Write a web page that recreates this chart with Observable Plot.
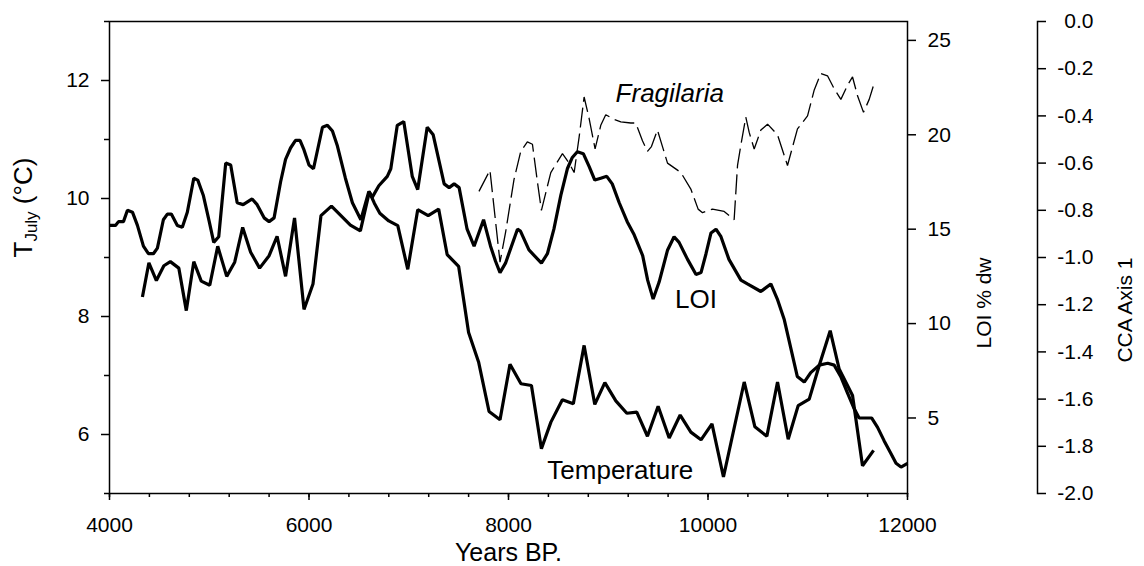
<!DOCTYPE html>
<html>
<head>
<meta charset="utf-8">
<script src="https://cdn.jsdelivr.net/npm/d3@7"></script>
<script src="https://cdn.jsdelivr.net/npm/@observablehq/plot@0.6"></script>
<style>
html, body { margin: 0; padding: 0; background: #fff; }
#chart svg { display: block; }
</style>
</head>
<body>
<div id="chart"></div>
<script>
// ---- Data ----
// July temperature (°C), left axis
const tempYears = [4330,4395,4470,4545,4610,4695,4770,4845,4920,5005,5085,5175,5255,5335,5415,5505,5600,5680,5765,5855,5950,6040,6120,6225,6415,6515,6605,6655,6710,6800,6890,6990,7090,7195,7300,7385,7500,7600,7700,7805,7915,8015,8125,8230,8330,8425,8540,8650,8758,8865,8966,9076,9186,9286,9393,9500,9611,9721,9828,9930,10040,10155,10363,10470,10590,10697,10804,10904,11015,11115,11225,11315,11449,11549,11660];
const tempValues = [8.33,8.91,8.61,8.86,8.93,8.82,8.10,8.93,8.60,8.53,9.19,8.68,8.92,9.51,9.09,8.82,9.03,9.36,8.68,9.67,8.12,8.55,9.71,9.87,9.55,9.45,10.11,9.92,9.75,9.62,9.54,8.80,9.81,9.71,9.82,9.05,8.85,7.73,7.23,6.39,6.25,7.19,6.86,6.83,5.76,6.21,6.59,6.52,7.51,6.51,6.88,6.57,6.36,6.38,5.97,6.48,5.94,6.33,6.04,5.91,6.18,5.28,6.89,6.13,5.97,6.89,5.92,6.49,6.60,7.17,7.76,7.11,6.66,5.47,5.73];

// Loss on ignition (% dry weight), middle right axis
const loiYears = [4000,4060,4090,4140,4180,4230,4280,4340,4390,4440,4480,4540,4580,4620,4680,4730,4780,4845,4885,4940,5000,5045,5095,5165,5215,5280,5340,5430,5480,5550,5600,5650,5715,5765,5815,5865,5910,5950,6000,6045,6135,6185,6235,6285,6365,6435,6520,6600,6635,6700,6785,6820,6885,6950,7035,7090,7185,7245,7355,7405,7455,7505,7585,7655,7750,7820,7870,7915,7970,8090,8120,8205,8330,8390,8455,8525,8590,8640,8690,8750,8810,8865,8925,8985,9040,9110,9190,9260,9345,9395,9450,9510,9595,9660,9710,9795,9880,9930,9980,10030,10080,10130,10210,10330,10395,10530,10630,10695,10765,10830,10895,10965,11030,11115,11200,11265,11330,11400,11465,11515,11585,11640,11700,11765,11835,11885,11935,12000];
const loiValues = [15.2,15.2,15.4,15.4,16.0,15.9,15.2,14.1,13.7,13.7,14.0,15.5,15.8,15.8,15.2,15.1,15.9,17.7,17.6,16.8,15.4,14.3,14.6,18.5,18.4,16.4,16.3,16.6,16.3,15.6,15.4,15.6,17.5,18.7,19.3,19.7,19.7,19.2,18.4,18.2,20.4,20.5,20.2,19.4,17.7,16.4,15.5,17.0,16.7,17.3,17.8,18.2,20.5,20.7,17.8,17.1,20.4,20.0,17.4,17.2,17.4,17.2,15.0,14.1,15.5,14.1,13.3,12.7,13.2,15.0,14.9,13.9,13.2,13.7,15.0,16.8,18.2,18.8,19.1,19.0,18.3,17.6,17.7,17.8,17.4,16.4,15.4,14.7,13.6,12.3,11.3,12.2,13.9,14.6,14.3,13.4,12.6,12.7,13.7,14.8,15.0,14.6,13.4,12.3,12.1,11.7,12.1,11.3,10.2,8.7,7.2,6.9,7.4,7.8,7.9,7.8,7.2,6.3,5.5,5.0,5.0,5.0,4.5,3.8,3.1,2.6,2.4,2.6];

// Fragilaria CCA axis 1 score, far right axis
const fragYears = [7704,7814,7915,7972,8055,8123,8189,8240,8290,8330,8424,8541,8608,8658,8708,8758,8808,8868,8925,8975,9059,9126,9226,9276,9343,9393,9433,9493,9594,9728,9828,9901,9945,10045,10162,10262,10296,10329,10379,10413,10463,10530,10597,10697,10797,10897,10998,11065,11131,11198,11265,11332,11399,11449,11499,11559,11616,11660];
const fragValues = [-0.72,-0.63,-1.02,-0.89,-0.67,-0.55,-0.51,-0.52,-0.68,-0.80,-0.64,-0.56,-0.60,-0.64,-0.49,-0.32,-0.41,-0.54,-0.44,-0.395,-0.415,-0.425,-0.43,-0.43,-0.505,-0.55,-0.53,-0.46,-0.60,-0.64,-0.71,-0.795,-0.81,-0.795,-0.805,-0.84,-0.61,-0.525,-0.405,-0.47,-0.54,-0.46,-0.435,-0.48,-0.61,-0.455,-0.40,-0.29,-0.22,-0.23,-0.285,-0.33,-0.27,-0.235,-0.315,-0.385,-0.33,-0.27];

// Tick values
const xMajorTicks = [4000, 6000, 8000, 10000, 12000];
const xMinorTicks = [4000,4400,4800,5200,5600,6000,6400,6800,7200,7600,8000,8400,8800,9200,9600,10000,10400,10800,11200,11600,12000];
const tMajorTicks = [6, 8, 10, 12];
const tMinorTicks = [5, 7, 9, 11, 13];
const loiTicks = [5, 10, 15, 20, 25];
const ccaTicks = [0.0, -0.2, -0.4, -0.6, -0.8, -1.0, -1.2, -1.4, -1.6, -1.8, -2.0];

// Axis domains
const tDomain = [5, 13];
const loiDomain = [1, 26];
const ccaDomain = [-2, 0];
const xDomain = [4000, 12000];

// In-plot annotations
const noteLabels = ["Temperature", "LOI"];
const noteYears = [9121, 9880];
const noteValues = [5.25, 8.15];
const italicLabels = ["Fragilaria"];
const italicYears = [9617];
const italicValues = [11.63];

// ---- Build tables ----
const loiToT = d3.scaleLinear(loiDomain, tDomain);
const ccaToT = d3.scaleLinear(ccaDomain, tDomain);
const temp = tempYears.map((year, i) => ({year, value: tempValues[i]}));
const loi = loiYears.map((year, i) => ({year, value: loiToT(loiValues[i])}));
const frag = fragYears.map((year, i) => ({year, value: ccaToT(fragValues[i])}));
const notes = noteLabels.map((label, i) => ({label, year: noteYears[i], value: noteValues[i]}));
const italics = italicLabels.map((label, i) => ({label, year: italicYears[i], value: italicValues[i]}));

const fmtCCA = v => { const r = Math.round(v * 10) / 10; return (r < 0 ? "-" : "") + Math.abs(r).toFixed(1); };
const ccaOffset = 130;

const chart = Plot.plot({
  width: 1144,
  height: 566,
  marginLeft: 109,
  marginRight: 237,
  marginTop: 21,
  marginBottom: 73,
  style: {fontFamily: "'Liberation Sans', Arial, Helvetica, sans-serif", fontSize: "21px", color: "#000", background: "#fff", overflow: "visible"},
  x: {domain: xDomain},
  y: {domain: tDomain},
  marks: [
    // x axis
    Plot.axisX(xMinorTicks, {tickSize: 4, strokeWidth: 1.5, fill: "none", label: null}),
    Plot.axisX(xMajorTicks, {tickSize: 7, tickPadding: 17, strokeWidth: 1.5, label: null, fontSize: 21, tickFormat: d => String(d)}),
    Plot.text(["Years BP."], {frameAnchor: "bottom", dy: 67, lineAnchor: "bottom", fontSize: 25}),
    // left axis (°C)
    Plot.axisY(tMinorTicks, {anchor: "left", tickSize: 5, strokeWidth: 1.5, fill: "none", label: null}),
    Plot.axisY(tMajorTicks, {anchor: "left", tickSize: 8, tickPadding: 12, strokeWidth: 1.5, label: null, fontSize: 21, tickFormat: d => String(d)}),
    Plot.text(["TJuly (°C)"], {frameAnchor: "left", dx: -86, rotate: -90, fontSize: 26}),
    // LOI axis
    Plot.axisY(loiTicks.map(loiToT), {anchor: "right", tickSize: 8, tickPadding: 12, strokeWidth: 1.5, label: null, fontSize: 21, tickFormat: d => String(Math.round(loiToT.invert(d)))}),
    Plot.text(["LOI % dw"], {frameAnchor: "right", dx: 77, rotate: -90, fontSize: 21}),
    // CCA axis
    Plot.frame({anchor: "right", dx: ccaOffset, strokeWidth: 1.5}),
    Plot.axisY(ccaTicks.map(ccaToT), {anchor: "right", dx: ccaOffset, tickSize: 8, tickPadding: 48, textAnchor: "end", strokeWidth: 1.5, label: null, fontSize: 21, tickFormat: d => fmtCCA(ccaToT.invert(d))}),
    Plot.text(["CCA Axis 1"], {frameAnchor: "right", dx: 218, rotate: -90, fontSize: 21}),
    // frame
    Plot.frame({stroke: "#000", strokeWidth: 1.5}),
    // data
    Plot.line(frag, {x: "year", y: "value", stroke: "#000", strokeWidth: 1.3, strokeDasharray: "20,6", strokeLinejoin: "miter", strokeLinecap: "butt"}),
    Plot.line(loi, {x: "year", y: "value", stroke: "#000", strokeWidth: 3.2, strokeLinejoin: "miter", strokeLinecap: "butt"}),
    Plot.line(temp, {x: "year", y: "value", stroke: "#000", strokeWidth: 3.2, strokeLinejoin: "miter", strokeLinecap: "butt"}),
    // annotations
    Plot.text(notes, {x: "year", y: "value", text: "label", lineAnchor: "bottom", fontSize: 26}),
    Plot.text(italics, {x: "year", y: "value", text: "label", lineAnchor: "bottom", fontSize: 26, fontStyle: "italic"})
  ]
});

// subscript in the left-axis title
const NS = "http://www.w3.org/2000/svg";
for (const t of chart.querySelectorAll("text")) {
  if (t.textContent === "TJuly (°C)") {
    t.textContent = "";
    const a = document.createElementNS(NS, "tspan"); a.textContent = "T";
    const b = document.createElementNS(NS, "tspan"); b.textContent = "July"; b.setAttribute("font-size", "17"); b.setAttribute("dy", "5");
    const c = document.createElementNS(NS, "tspan"); c.textContent = " (°C)"; c.setAttribute("dy", "-5");
    t.append(a, b, c);
  }
}
document.getElementById("chart").append(chart);
</script>
</body>
</html>
